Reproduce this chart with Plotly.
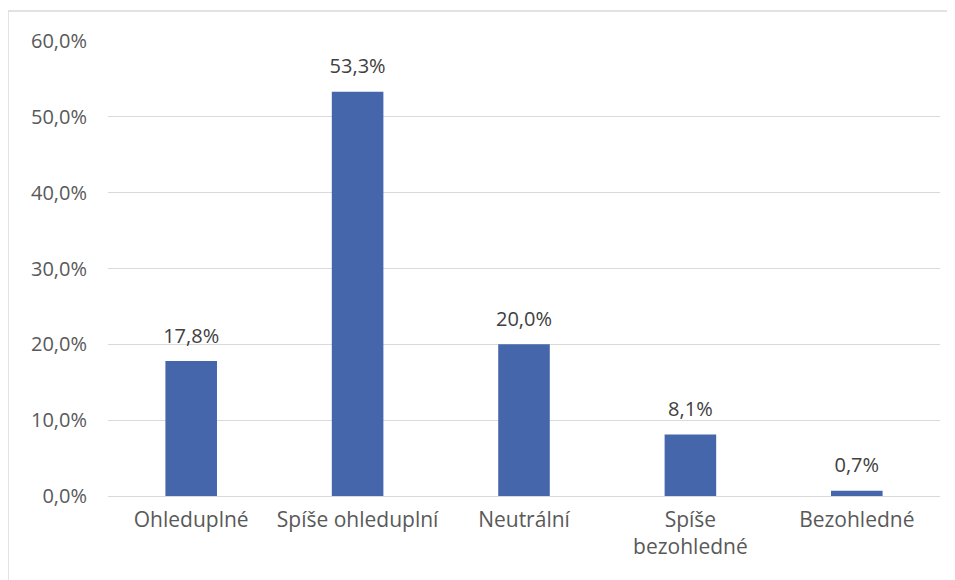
import plotly.graph_objects as go

categories = ["Ohleduplné", "Spíše ohleduplní", "Neutrální", "Spíše<br>bezohledné", "Bezohledné"]
values = [17.8, 53.3, 20.0, 8.1, 0.7]
value_labels = ["17,8%", "53,3%", "20,0%", "8,1%", "0,7%"]
tick_vals = [0, 10, 20, 30, 40, 50, 60]
tick_labels = ["0,0%", "10,0%", "20,0%", "30,0%", "40,0%", "50,0%", "60,0%"]

FONT = "Open Sans, Liberation Sans, sans-serif"

fig = go.Figure()
fig.add_trace(
    go.Bar(
        x=categories,
        y=values,
        marker=dict(color="#4666ac", line=dict(width=0)),
        hoverinfo="skip",
    )
)
fig.add_trace(
    go.Scatter(
        x=categories,
        y=values,
        mode="markers+text",
        text=value_labels,
        textposition="top center",
        marker=dict(size=20, opacity=0),
        textfont=dict(family=FONT, size=20, color="#404040"),
        cliponaxis=False,
        hoverinfo="skip",
    )
)

fig.update_layout(
    width=947,
    height=572,
    margin=dict(l=100, r=15, t=33, b=84),
    paper_bgcolor="white",
    plot_bgcolor="white",
    bargap=0.69,
    showlegend=False,
    font=dict(family=FONT, size=20, color="#595959"),
    xaxis=dict(
        showgrid=False,
        showline=False,
        ticks="",
        ticklabelstandoff=9,
        tickfont=dict(family=FONT, size=21, color="#595959"),
    ),
    yaxis=dict(
        range=[0, 60],
        tickmode="array",
        tickvals=tick_vals,
        ticktext=tick_labels,
        showgrid=True,
        gridcolor="#d9d9d9",
        gridwidth=1,
        zeroline=True,
        zerolinecolor="#d9d9d9",
        zerolinewidth=1,
        showline=False,
        ticks="",
        ticklabelstandoff=20,
        tickfont=dict(family=FONT, size=20, color="#595959"),
    ),
    shapes=[
        dict(type="line", xref="paper", yref="paper",
             x0=-0.1202, x1=2, y0=1.066, y1=1.066,
             line=dict(color="#d9d9d9", width=1.5)),
        dict(type="line", xref="paper", yref="paper",
             x0=-0.1202, x1=-0.1202, y0=-1, y1=1.066,
             line=dict(color="#d9d9d9", width=1.5)),
    ],
)

fig.write_html("out.html")
